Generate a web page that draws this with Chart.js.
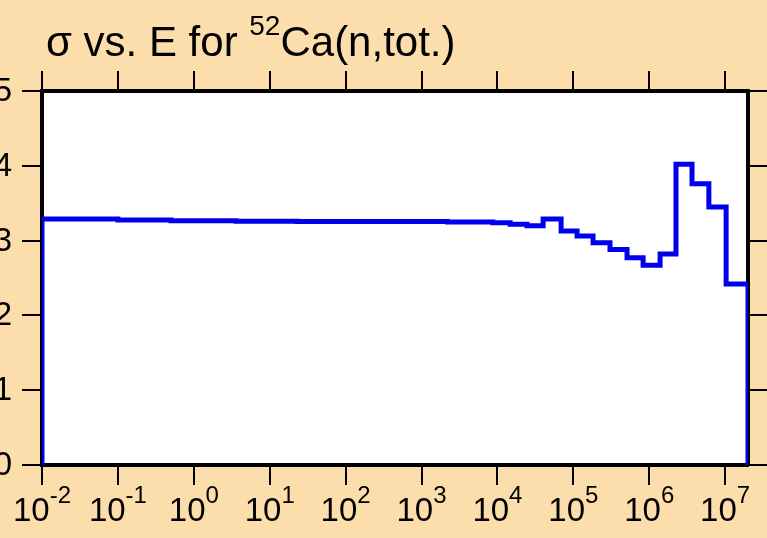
<!DOCTYPE html>
<html>
<head>
<meta charset="utf-8">
<script src="https://cdn.jsdelivr.net/npm/chart.js@4/dist/chart.umd.min.js"></script>
<style>
  html, body { margin: 0; padding: 0; background: #FCDEAC; }
  #wrap { width: 767px; height: 538px; position: relative; }
</style>
</head>
<body>
<div id="wrap"><canvas id="c" width="767" height="538"></canvas></div>
<script>
// bin start energies (eV) and total cross section (b), histogram style
const energies = [1e-2, 1e-2, 0.1, 0.5, 3.6, 23, 2.2e3, 8.7e3, 1.47e4, 2.45e4, 4.0e4, 6.9e4,
  1.12e5, 1.82e5, 3.04e5, 5.1e5, 8.3e5, 1.39e6, 2.25e6, 3.66e6, 6.1e6, 1.03e7, 2e7];
const sigma = [0, 3.29, 3.275, 3.265, 3.26, 3.257, 3.25, 3.24, 3.22, 3.20, 3.29, 3.13,
  3.06, 2.97, 2.88, 2.77, 2.67, 2.82, 4.02, 3.76, 3.45, 2.42, 0];

const xExponents = [-2, -1, 0, 1, 2, 3, 4, 5, 6, 7];
const yTicks = [0, 1, 2, 3, 4, 5];

const FONT = '"Liberation Sans", Arial, sans-serif';

const points = energies.map((e, i) => ({ x: e, y: sigma[i] }));

function decadeTicks(scale) {
  scale.ticks = xExponents.map(k => ({ value: Math.pow(10, k) }));
}

function gridOpts() {
  return {
    display: true,
    drawOnChartArea: false,
    drawTicks: true,
    tickLength: 20,
    color: '#000',
    lineWidth: 2
  };
}

const borderOpts = { display: true, width: 4, color: '#000' };

const plotBg = {
  id: 'plotBg',
  beforeDraw(chart) {
    const { ctx, chartArea: a } = chart;
    ctx.save();
    ctx.fillStyle = '#FCDEAC';
    ctx.fillRect(0, 0, chart.width, chart.height);
    ctx.fillStyle = '#fff';
    ctx.fillRect(a.left, a.top, a.right - a.left, a.bottom - a.top);
    ctx.restore();
  }
};

const labels = {
  id: 'labels',
  afterDraw(chart) {
    const ctx = chart.ctx;
    const xs = chart.scales.x, ys = chart.scales.y;
    ctx.save();
    ctx.fillStyle = '#000';

    // y tick labels
    ctx.font = '33px ' + FONT;
    ctx.textAlign = 'right';
    ctx.textBaseline = 'middle';
    yTicks.forEach(v => ctx.fillText(String(v), 12, ys.getPixelForValue(v) + 1));

    // x tick labels 10^k
    ctx.textAlign = 'left';
    ctx.textBaseline = 'alphabetic';
    xExponents.forEach(k => {
      const px = xs.getPixelForValue(Math.pow(10, k));
      ctx.font = '33px ' + FONT;
      const w1 = ctx.measureText('10').width;
      ctx.font = '24px ' + FONT;
      const w2 = ctx.measureText(String(k)).width;
      const x0 = px - (w1 + w2) / 2;
      ctx.font = '33px ' + FONT;
      ctx.fillText('10', x0, 521);
      ctx.font = '24px ' + FONT;
      ctx.fillText(String(k), x0 + w1, 503);
    });

    // title
    let x = 46;
    ctx.font = '42px ' + FONT;
    ctx.fillText('\u03C3 vs. E for ', x, 56);
    x += ctx.measureText('\u03C3 vs. E for ').width;
    ctx.font = '28px ' + FONT;
    ctx.fillText('52', x, 35);
    x += ctx.measureText('52').width;
    ctx.font = '42px ' + FONT;
    ctx.fillText('Ca(n,tot.)', x, 56);
    ctx.restore();
  }
};

new Chart(document.getElementById('c'), {
  type: 'line',
  data: {
    datasets: [{
      data: points,
      stepped: 'before',
      borderColor: '#0000EE',
      borderWidth: 5,
      pointRadius: 0,
      fill: false,
      xAxisID: 'x',
      yAxisID: 'y'
    }]
  },
  options: {
    responsive: false,
    animation: false,
    layout: { padding: 0 },
    plugins: { legend: { display: false }, tooltip: { enabled: false }, title: { display: false } },
    scales: {
      x: {
        type: 'logarithmic', position: 'bottom', min: 1e-2, max: 2e7,
        afterBuildTicks: decadeTicks,
        afterFit: s => { s.height = 73; },
        ticks: { display: false },
        grid: gridOpts(), border: borderOpts
      },
      x2: {
        type: 'logarithmic', position: 'top', min: 1e-2, max: 2e7,
        afterBuildTicks: decadeTicks,
        afterFit: s => { s.height = 91; },
        ticks: { display: false },
        grid: gridOpts(), border: borderOpts
      },
      y: {
        type: 'linear', position: 'left', min: 0, max: 5,
        afterFit: s => { s.width = 42; },
        ticks: { display: false, stepSize: 1 },
        grid: gridOpts(), border: borderOpts
      },
      y2: {
        type: 'linear', position: 'right', min: 0, max: 5,
        afterFit: s => { s.width = 19; },
        ticks: { display: false, stepSize: 1 },
        grid: gridOpts(), border: borderOpts
      }
    }
  },
  plugins: [plotBg, labels]
});
</script>
</body>
</html>
